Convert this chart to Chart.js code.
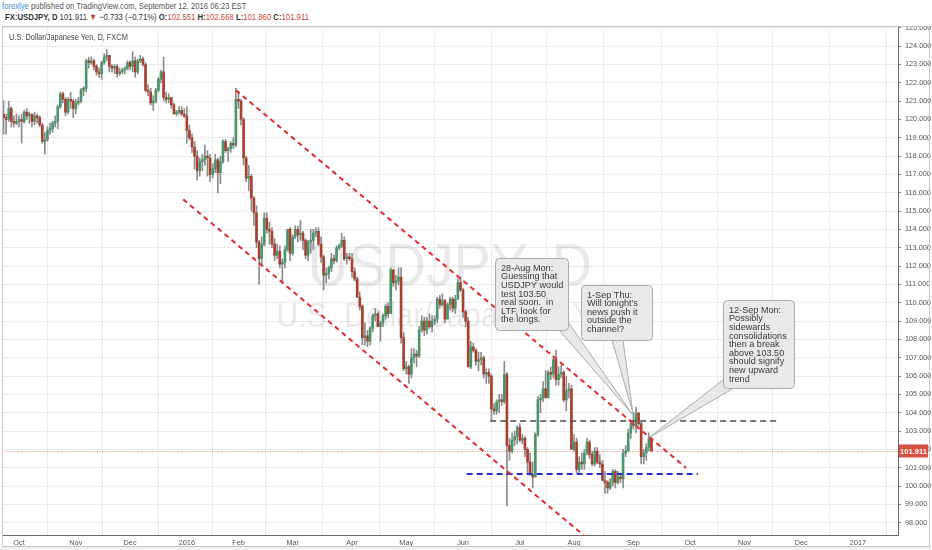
<!DOCTYPE html>
<html>
<head>
<meta charset="utf-8">
<script src="https://cdn.jsdelivr.net/npm/chart.js@4.4.1/dist/chart.umd.min.js"></script>
<style>
  body { margin: 0; background: #fff; font-family: "Liberation Sans", Arial, sans-serif; }
  .sq { position: absolute; white-space: nowrap; transform-origin: left center; }
  #h1 { left: 2px; top: 1px; font-size: 9px; line-height: 11px; color: #555; transform: scaleX(0.85); }
  #h1 .user { color: #3d8fd1; }
  #h2 { left: 5px; top: 12px; font-size: 9px; line-height: 11px; color: #333; transform: scaleX(0.86); }
  #h2 .r { color: #cf3f33; }
  #sym { left: 9px; top: 32px; font-size: 8.5px; line-height: 10px; color: #444; transform: scaleX(0.87); z-index: 2; }
  #wrap { position: absolute; left: 0; top: 26px; width: 932px; height: 524px; }
</style>
</head>
<body>
<div id="h1" class="sq"><span class="user">forexlye</span> published on TradingView.com, September 12, 2016 06:23 EST</div>
<div id="h2" class="sq"><b>FX:USDJPY, D</b> 101.911 <span class="r">&#9660;</span> &minus;0.733 (&minus;0.71%) <b>O:</b><span class="r">102.551</span> <b>H:</b><span class="r">102.668</span> <b>L:</b><span class="r">101.860</span> <b>C:</b><span class="r">101.911</span></div>
<div id="sym" class="sq">U.S. Dollar/Japanese Yen, D, FXCM</div>
<div id="wrap"><canvas id="chart"></canvas></div>
<script>
// daily candles [open, high, low, close], one array per month (bar 0 = 23 Sep 2015)
const sep15 = [
  [120.3,121.0,119.2,120.1],[120.1,120.3,119.2,120.0],[120.0,121.0,119.9,120.6],
  [120.6,120.7,119.6,119.9],[119.9,120.2,119.6,119.8],[119.8,120.3,119.7,119.9]
];
const oct15 = [
  [119.9,120.2,119.6,120.0],[120.0,120.3,118.7,119.9],[119.9,120.5,119.8,120.4],
  [120.4,120.6,120.0,120.2],[120.2,120.4,119.8,120.3],[120.3,120.3,119.6,119.9],
  [119.9,120.4,119.7,120.2],[120.2,120.3,119.8,120.1],[120.1,120.2,119.6,119.7],
  [119.7,119.8,118.7,118.8],[118.8,119.3,118.1,118.9],[118.9,119.6,118.8,119.4],
  [119.4,119.8,119.2,119.5],[119.5,119.9,119.3,119.8],[119.8,120.2,119.6,119.9],
  [119.9,120.8,119.5,120.7],[120.7,121.5,120.6,121.4],[121.4,121.5,120.9,121.1],
  [121.1,121.2,120.2,120.4],[120.4,121.2,120.3,121.1],[121.1,121.5,120.6,121.0],
  [121.0,121.1,120.1,120.6]
];
const nov15 = [
  [120.6,121.1,120.3,120.9],[120.9,121.2,120.8,121.0],[121.0,121.7,120.9,121.6],
  [121.6,121.8,121.3,121.7],[121.7,123.3,121.5,123.2],[123.2,123.4,122.8,123.1],
  [123.1,123.4,123.0,123.2],[123.2,123.3,122.7,122.9],[122.9,123.0,122.4,122.6],
  [122.6,122.8,122.3,122.5],[122.5,123.2,122.2,123.1],[123.1,123.6,123.0,123.4],
  [123.4,123.8,123.2,123.5],[123.5,123.5,122.6,122.9],[122.9,123.0,122.6,122.8],
  [122.8,123.0,122.5,122.9],[122.9,123.0,122.3,122.5],[122.5,122.8,122.4,122.6],
  [122.6,122.8,122.5,122.7],[122.7,122.9,122.5,122.8],[122.8,123.2,122.7,123.1]
];
const dec15 = [
  [123.1,123.2,122.7,122.9],[122.9,123.7,122.6,123.2],[123.2,123.4,122.3,122.6],
  [122.6,123.3,122.5,123.2],[123.2,123.5,123.1,123.3],[123.3,123.4,122.9,123.0],
  [123.0,123.1,121.5,121.6],[121.6,121.9,121.3,121.5],[121.5,121.7,120.8,120.9],
  [120.9,121.3,120.5,121.0],[121.0,121.7,120.9,121.6],[121.6,122.3,121.5,122.2],
  [122.2,122.7,122.0,122.6],[122.6,123.4,121.0,121.2],[121.2,121.5,120.9,121.1],
  [121.1,121.4,120.9,121.2],[121.2,121.2,120.6,120.8],[120.8,120.9,120.3,120.3],
  [120.3,120.5,120.2,120.4],[120.4,120.7,120.3,120.5],[120.5,120.7,120.2,120.3],
  [120.3,120.6,120.1,120.2]
];
const jan16 = [
  [120.2,120.7,118.7,119.4],[119.4,119.7,118.9,119.0],[119.0,119.2,118.2,118.5],
  [118.5,118.8,117.3,118.0],[118.0,118.3,116.7,117.2],[117.2,117.9,116.9,117.7],
  [117.7,118.1,117.2,117.8],[117.8,118.6,117.5,118.0],[118.0,118.3,116.9,117.9],
  [117.9,118.1,116.6,117.0],[117.0,117.6,116.8,117.3],[117.3,118.1,117.1,117.8],
  [117.8,117.9,116.0,117.1],[117.1,118.0,116.5,117.7],[117.7,118.9,117.6,118.8],
  [118.8,118.9,118.2,118.3],[118.3,118.5,117.7,118.4],[118.4,118.8,118.2,118.7],
  [118.7,119.0,118.4,118.6],[118.6,121.7,118.5,121.1]
];
const feb16 = [
  [121.1,121.5,120.6,121.0],[121.0,121.1,119.7,120.0],[120.0,120.1,117.5,117.9],
  [117.9,118.0,116.6,116.8],[116.8,117.5,116.1,116.9],[116.9,117.0,115.0,115.7],
  [115.7,115.8,114.2,114.9],[114.9,115.3,113.0,113.3],[113.3,113.4,111.0,112.4],
  [112.4,113.6,112.0,113.2],[113.2,114.9,113.1,114.6],[114.6,114.9,113.8,114.0],
  [114.0,114.4,113.2,113.9],[113.9,114.1,113.0,113.2],[113.2,113.5,112.3,112.6],
  [112.6,113.2,112.4,112.8],[112.8,113.1,111.9,112.1],[112.1,112.4,111.1,112.2],
  [112.2,113.1,111.9,112.9],[112.9,114.0,112.8,114.0],[114.0,114.1,112.3,112.7]
];
const mar16 = [
  [112.7,113.7,112.6,113.6],[113.6,114.2,113.5,114.0],[114.0,114.2,113.3,113.7],
  [113.7,114.5,113.4,113.8],[113.8,113.9,112.9,113.4],[113.4,113.5,112.4,112.6],
  [112.6,113.4,112.3,113.3],[113.3,114.0,112.7,113.4],[113.4,114.0,112.9,113.8],
  [113.8,114.1,113.6,113.9],[113.9,114.1,113.1,113.2],[113.2,113.6,112.2,112.5],
  [112.5,112.6,110.7,111.5],[111.5,111.9,111.1,111.6],[111.6,112.0,111.3,111.9],
  [111.9,112.7,111.7,112.4],[112.4,112.6,112.1,112.3],[112.3,113.1,112.2,113.0],
  [113.0,113.2,112.9,113.1],[113.1,113.8,113.0,113.4],[113.4,113.6,112.3,112.4],
  [112.4,112.7,112.1,112.5],[112.5,112.7,112.3,112.4]
];
const apr16 = [
  [112.4,112.7,111.4,111.7],[111.7,111.9,111.2,111.3],[111.3,111.4,110.3,110.3],
  [110.3,110.6,109.6,109.8],[109.8,109.9,107.7,108.1],[108.1,108.9,107.7,108.2],
  [108.2,108.5,107.6,107.9],[107.9,108.7,107.7,108.6],[108.6,109.4,108.4,109.3],
  [109.3,109.7,109.0,109.4],[109.4,109.5,108.7,108.7],[108.7,109.0,107.9,108.9],
  [108.9,109.4,108.7,109.3],[109.3,109.9,109.1,109.8],[109.8,110.0,109.2,109.4],
  [109.4,111.9,109.4,111.8],[111.8,111.8,110.9,111.1],[111.1,111.5,110.7,111.2],
  [111.2,111.9,111.0,111.4],[111.4,111.9,107.8,108.1],[108.1,108.4,106.3,106.4]
];
const may16 = [
  [106.4,106.8,106.1,106.5],[106.5,106.6,105.6,106.1],[106.1,107.5,105.9,107.0],
  [107.0,107.5,106.7,107.2],[107.2,107.4,106.5,107.1],[107.1,108.7,107.0,108.5],
  [108.5,109.3,108.4,109.0],[109.0,109.2,108.2,108.5],[108.5,109.2,108.3,109.0],
  [109.0,109.4,108.6,108.7],[108.7,109.3,108.4,109.0],[109.0,109.3,108.8,109.1],
  [109.1,110.3,108.9,110.2],[110.2,110.4,109.7,109.9],[109.9,110.5,109.8,110.1],
  [110.1,110.2,108.9,109.1],[109.1,110.0,109.1,109.9],[109.9,110.3,109.6,110.2],
  [110.2,110.3,109.5,109.7],[109.7,110.4,109.4,110.2],[110.2,111.3,110.2,111.1],
  [111.1,111.4,110.6,110.7]
];
const jun16 = [
  [110.7,110.8,109.2,109.5],[109.5,109.6,108.7,109.0],[109.0,109.2,106.5,106.5],
  [106.5,107.9,106.4,107.6],[107.6,107.8,107.3,107.4],[107.4,107.5,106.6,106.8],
  [106.8,107.3,106.3,106.9],[106.9,107.3,106.6,107.0],[107.0,107.1,105.9,106.1],
  [106.1,106.4,105.6,106.2],[106.2,106.4,105.6,106.0],[106.0,106.1,103.6,104.2],
  [104.2,104.5,103.9,104.1],[104.1,104.7,103.9,104.6],[104.6,105.0,104.0,104.7],
  [104.7,105.0,104.4,104.6],[104.6,106.8,104.5,106.1],[106.1,106.2,98.9,102.2],
  [102.2,102.6,101.4,101.9],[101.9,102.9,101.8,102.5],[102.5,103.0,102.2,102.7],
  [102.7,103.3,102.3,103.2]
];
const jul16 = [
  [103.2,103.4,102.4,102.5],[102.5,102.8,102.3,102.6],[102.6,102.7,101.6,102.0],
  [102.0,102.1,100.6,101.3],[101.3,101.8,100.6,100.6],[100.6,101.3,99.9,100.5],
  [100.5,102.9,100.5,102.8],[102.8,104.9,102.7,104.7],[104.7,105.0,104.0,104.8],
  [104.8,105.7,104.6,105.3],[105.3,106.3,104.9,104.8],[104.8,106.3,104.8,106.2],
  [106.2,106.5,105.8,106.1],[106.1,107.1,105.9,106.9],[106.9,107.4,105.5,105.8],
  [105.8,106.5,105.5,106.1],[106.1,106.6,105.9,106.2],[106.2,106.3,104.6,104.7],
  [104.7,106.0,104.1,105.2],[105.2,105.6,104.8,105.3],[105.3,105.5,102.0,102.0]
];
const aug16 = [
  [102.0,102.8,101.9,102.4],[102.4,102.6,100.7,100.9],[100.9,101.6,100.7,101.3],
  [101.3,101.8,100.9,101.2],[101.2,102.0,100.9,101.8],[101.8,102.6,101.7,102.4],
  [102.4,102.5,101.5,101.7],[101.7,101.9,101.1,101.2],[101.2,102.1,101.1,101.9],
  [101.9,102.1,101.2,101.3],[101.3,101.7,101.0,101.2],[101.2,101.4,100.3,100.3],
  [100.3,100.8,99.6,100.2],[100.2,100.3,99.6,99.9],[99.9,100.4,99.8,100.2],
  [100.2,100.9,100.0,100.8],[100.8,100.9,99.9,100.2],[100.2,100.8,100.1,100.5],
  [100.5,100.7,100.2,100.4],[100.4,102.0,99.9,101.8],[101.8,102.2,101.6,101.9],
  [101.9,103.1,101.9,102.9],[102.9,103.5,102.6,103.4]
];
const sep16 = [
  [103.4,104.0,103.1,103.3],[103.3,104.3,102.9,104.0],[104.0,104.0,103.3,103.4],
  [103.4,103.5,101.2,101.6],[101.6,102.0,101.2,101.8],[101.8,102.3,101.4,102.1],
  [102.1,102.9,101.9,102.6],[102.551,102.668,101.860,101.911]
];

// month grid: bar index of first session of each month, and its label
const monthTicks = [6, 28, 49, 71, 91, 112, 135, 156, 178, 200, 221, 244, 266, 287, 309, 331];
const monthLabels = ['Oct','Nov','Dec','2016','Feb','Mar','Apr','May','Jun','Jul','Aug','Sep','Oct','Nov','Dec','2017'];
const priceTicks = [98,99,100,101,102,103,104,105,106,107,108,109,110,111,112,113,114,115,116,117,118,119,120,121,122,123,124,125];

// drawn studies, in [bar index, price]
const channelUpper = [{x: 90, y: 121.6}, {x: 264.4, y: 100.99}];
const channelLower = [{x: 69.6, y: 115.64}, {x: 224.8, y: 97.3}];
const resistance = [{x: 188.5, y: 103.55}, {x: 300, y: 103.55}];
const support = [{x: 179.4, y: 100.65}, {x: 269, y: 100.65}];

const callouts = [
  { x: 190.4, y: 112.44, w: 73, h: 72, tip: [243.5, 103.93], base: [[64, 72], [73, 64]],
    lines: ['28-Aug Mon:', 'Guessing that', 'USDJPY would', 'test 103.50', 'real soon.  in', 'LTF, look for', 'the longs.'] },
  { x: 223.7, y: 110.97, w: 71, h: 55, tip: [243.8, 103.98], base: [[31, 55], [42, 55]],
    lines: ['1-Sep Thu:', "Will tonight's", 'news push it', 'outside the', 'channel?'] },
  { x: 278.7, y: 110.15, w: 71, h: 88, tip: [250.4, 102.67], base: [[0, 80], [11, 88]],
    lines: ['12-Sep Mon:', 'Possibly', 'sidewards', 'consolidations', 'then a break', 'above 103.50', 'should signify', 'new upward', 'trend'] }
];

const candles = [].concat(sep15, oct15, nov15, dec15, jan16, feb16, mar16, apr16, may16, jun16, jul16, aug16, sep16);
const lastClose = candles[candles.length - 1][3];

const upColor = '#4a956c', downColor = '#a8412f';
const bodies = candles.map((c, i) => ({ x: i, y: [c[0], c[3]] }));
const wicks = candles.map((c, i) => ({ x: i, y: [c[2], c[1]] }));
const bodyColors = candles.map(c => c[3] >= c[0] ? upColor : downColor);

function squeezed(ctx, s, x, y, sx) {
  ctx.save();
  ctx.translate(x, y);
  ctx.scale(sx, 1);
  ctx.fillText(s, 0, 0);
  ctx.restore();
}

const decor = {
  id: 'decor',
  beforeDatasetsDraw(chart) {
    const { ctx, chartArea: a } = chart;
    const cx = (a.left + a.right) / 2, cy = (a.top + a.bottom) / 2;
    ctx.save();
    ctx.fillStyle = 'rgba(0,0,0,0.085)';
    ctx.textBaseline = 'middle';
    ctx.textAlign = 'center';
    ctx.font = '62px "Liberation Sans", Arial, sans-serif';
    squeezed(ctx, 'USDJPY, D', cx, cy - 12, 0.9);
    ctx.font = '35px "Liberation Sans", Arial, sans-serif';
    squeezed(ctx, 'U.S. Dollar/Japanese Yen', cx, cy + 37, 0.87);
    // last price dotted line
    const py = chart.scales.y.getPixelForValue(lastClose);
    ctx.strokeStyle = '#ec9273';
    ctx.lineWidth = 1;
    ctx.setLineDash([1, 1.5]);
    ctx.beginPath();
    ctx.moveTo(a.left, Math.round(py) + 0.5);
    ctx.lineTo(a.right, Math.round(py) + 0.5);
    ctx.stroke();
    ctx.restore();
  },
  afterDatasetsDraw(chart) {
    const { ctx } = chart;
    const xs = chart.scales.x, ys = chart.scales.y;
    ctx.save();
    ctx.font = '9.8px "Liberation Sans", Arial, sans-serif';
    ctx.textBaseline = 'middle';
    ctx.textAlign = 'left';
    callouts.forEach(c => {
      const bx = xs.getPixelForValue(c.x), by = ys.getPixelForValue(c.y);
      const tx = xs.getPixelForValue(c.tip[0]), ty = ys.getPixelForValue(c.tip[1]);
      ctx.fillStyle = '#e9e9e9';
      ctx.strokeStyle = '#ababab';
      ctx.lineWidth = 1;
      ctx.beginPath();
      ctx.moveTo(bx + c.base[0][0], by + c.base[0][1]);
      ctx.lineTo(tx, ty);
      ctx.lineTo(bx + c.base[1][0], by + c.base[1][1]);
      ctx.closePath();
      ctx.fill();
      ctx.stroke();
      ctx.beginPath();
      ctx.roundRect(bx + 0.5, by + 0.5, c.w, c.h, 4);
      ctx.fill();
      ctx.stroke();
      ctx.fillStyle = '#3a3a3a';
      c.lines.forEach((s, k) => squeezed(ctx, s, bx + 6, by + 10 + k * 8.6, 0.93));
    });
    ctx.restore();
  },
  afterDraw(chart) {
    const { ctx, chartArea: a, width, height } = chart;
    ctx.save();
    ctx.strokeStyle = '#c6c6c6';
    ctx.lineWidth = 1;
    ctx.strokeRect(2.5, 0.5, width - 5, height - 4);
    ctx.fillStyle = '#f1f1f1';
    ctx.fillRect(0, height - 3, width, 3);
    // price label on the axis
    const py = chart.scales.y.getPixelForValue(lastClose);
    ctx.fillStyle = '#d8503f';
    ctx.fillRect(a.right + 1, py - 6.5, 29, 13);
    ctx.fillStyle = '#fff';
    ctx.font = 'bold 7.6px "Liberation Sans", Arial, sans-serif';
    ctx.textBaseline = 'middle';
    ctx.textAlign = 'center';
    ctx.fillText(lastClose.toFixed(3), a.right + 15.5, py + 0.5);
    ctx.restore();
  }
};

Chart.defaults.font.family = '"Liberation Sans", Arial, sans-serif';

const dashed = (data, color, width, dash) => ({
  type: 'line', data, borderColor: color, borderWidth: width, borderDash: dash,
  pointRadius: 0, fill: false, tension: 0, order: 0
});

new Chart(document.getElementById('chart'), {
  type: 'bar',
  data: {
    datasets: [
      { data: wicks, backgroundColor: '#8c8c8c', barThickness: 1, grouped: false, order: 3 },
      { data: bodies, backgroundColor: bodyColors, barThickness: 2, minBarLength: 1, grouped: false, order: 2 },
      dashed(channelUpper, '#e32b2b', 2, [5, 4]),
      dashed(channelLower, '#e32b2b', 2, [5, 4]),
      dashed(resistance, '#4a4a4a', 1.6, [6, 4]),
      dashed(support, '#1f2fd0', 2, [6, 4])
    ]
  },
  options: {
    responsive: true,
    maintainAspectRatio: false,
    animation: false,
    layout: { padding: { left: 2, right: 0, top: 0, bottom: 0 } },
    plugins: { legend: { display: false }, tooltip: { enabled: false } },
    scales: {
      x: {
        type: 'linear',
        min: -0.6,
        max: 346.5,
        offset: false,
        afterBuildTicks: s => { s.ticks = monthTicks.map(v => ({ value: v })); },
        afterFit: s => { s.height = 14.5; s.paddingLeft = 0; s.paddingRight = 0; },
        grid: { color: '#ebebeb', drawTicks: false },
        border: { color: '#666' },
        ticks: {
          autoSkip: false, maxRotation: 0, padding: 3, color: '#555', font: { size: 7.3 },
          callback: v => monthLabels[monthTicks.indexOf(v)]
        }
      },
      y: {
        position: 'right',
        min: 97.3,
        max: 125.1,
        afterBuildTicks: s => { s.ticks = priceTicks.map(v => ({ value: v })); },
        afterFit: s => { s.width = 34; s.paddingTop = 0; s.paddingBottom = 0; },
        grid: { color: '#ebebeb', tickColor: '#888', tickLength: 3 },
        border: { color: '#666' },
        ticks: { padding: 4, color: '#555', font: { size: 7.3 }, callback: v => v.toFixed(3) }
      }
    }
  },
  plugins: [decor]
});
</script>
</body>
</html>
